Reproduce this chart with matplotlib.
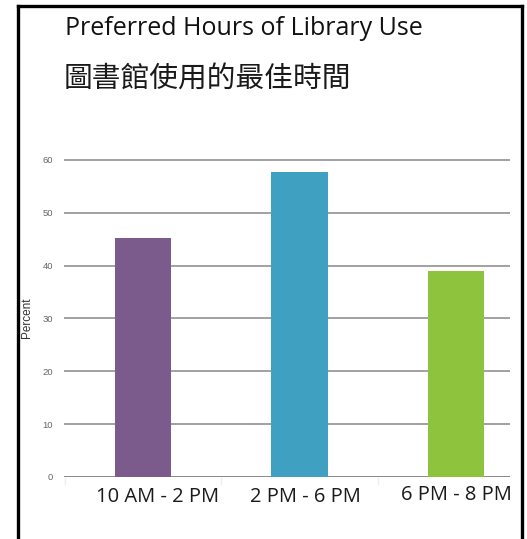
import matplotlib
matplotlib.use("Agg")
import matplotlib.pyplot as plt
from matplotlib.lines import Line2D
from matplotlib.transforms import blended_transform_factory

# Data
categories = ["10 AM - 2 PM", "2 PM - 6 PM", "6 PM - 8 PM"]
percent = [45.3, 57.7, 38.9]
bar_colors = ["#7a5b8c", "#3fa0c2", "#8ec33e"]
yticks = [0, 10, 20, 30, 40, 50, 60]
title_en = "Preferred Hours of Library Use"
title_zh = "圖書館使用的最佳時間"
y_label = "Percent"

W, H = 527, 539
fig = plt.figure(figsize=(W / 100, H / 100), dpi=100)
fig.patch.set_facecolor("white")

def fx(px):
    return px / W

def fy(py):
    return 1 - py / H

# Plot area
ax = fig.add_axes([fx(64), fy(477), fx(510) - fx(64), fy(149.4) - fy(477)])
x = list(range(len(categories)))
ax.bar(x, percent, width=0.36, color=bar_colors, zorder=3)
ax.set_xlim(-0.505, 2.345)
ax.set_ylim(0, 62)

for v in yticks:
    ax.axhline(v, color="#9a9a9a" if v else "#808080", lw=1.3, zorder=1)

for s in ax.spines.values():
    s.set_visible(False)
ax.set_yticks(yticks)
ax.set_yticklabels([str(v) for v in yticks], fontsize=6.8, color="#666666",
                   family="Liberation Sans")
ax.tick_params(axis="y", length=0, pad=8)
ax.set_xticks([])
ax.set_xticks([-0.5, 0.5, 1.5], minor=True)
ax.tick_params(axis="x", which="minor", length=6, color="#efefef", width=1)
ax.set_ylabel(y_label, fontsize=8.5, color="#333333", family="Liberation Sans")
ax.yaxis.set_label_coords(-(64 - 33) / (510 - 64), (477 - 318) / (477 - 149.4))

# Category labels below the bars
label_dx = [0.096, 0.04, 0.0]
label_y = [502, 502, 500]
tr = blended_transform_factory(ax.transData, fig.transFigure)
for i, (cat, dx, ly) in enumerate(zip(categories, label_dx, label_y)):
    ax.text(i + dx, fy(ly), cat, transform=tr, ha="center", va="baseline",
            fontsize=14.5, family="Open Sans", color="#1a1a1a")

# Titles
fig.text(fx(65), fy(35), title_en, fontsize=18, family="Open Sans",
         color="#111111", ha="left", va="baseline")
fig.text(fx(64), fy(88), title_zh, fontsize=20.7,
         family=["Noto Sans CJK TC", "DejaVu Sans"], color="#1a1a1a",
         ha="left", va="baseline")

# Outer frame (open at the bottom)
lw = 2.4
kw = dict(color="black", lw=lw, transform=fig.transFigure, solid_capstyle="projecting")
fig.add_artist(Line2D([fx(17.5), fx(17.5)], [fy(5.5), -0.05], **kw))
fig.add_artist(Line2D([fx(521.5), fx(521.5)], [fy(5.5), -0.05], **kw))
fig.add_artist(Line2D([fx(17.5), fx(521.5)], [fy(5.5), fy(5.5)], **kw))

fig.savefig("out.png", dpi=100, facecolor="white")
